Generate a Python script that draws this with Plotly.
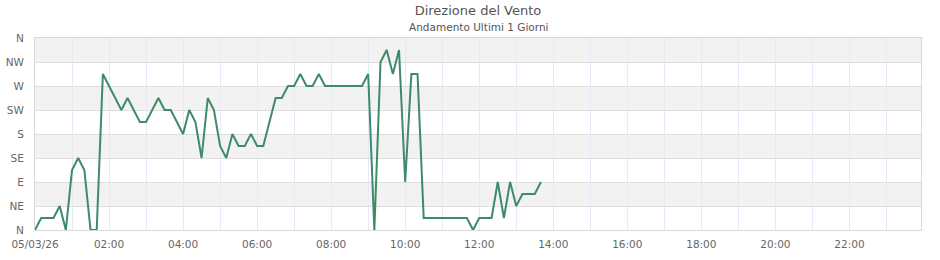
import plotly.graph_objects as go
import pandas as pd

# ---- data ----
start_time = "2026-03-05 00:00"
step_minutes = 10
direction_deg = [
    0, 22.5, 22.5, 22.5, 45, 0, 112.5, 135, 112.5, 0, 0, 292.5,
    270, 247.5, 225, 247.5, 225, 202.5, 202.5, 225, 247.5, 225, 225, 202.5,
    180, 225, 202.5, 135, 247.5, 225, 157.5, 135, 180, 157.5, 157.5, 180,
    157.5, 157.5, 202.5, 247.5, 247.5, 270, 270, 292.5, 270, 270, 292.5, 270,
    270, 270, 270, 270, 270, 270, 292.5, 0, 315, 337.5, 292.5, 337.5,
    90, 292.5, 292.5, 22.5, 22.5, 22.5, 22.5, 22.5, 22.5, 22.5, 22.5, 0,
    22.5, 22.5, 22.5, 90, 22.5, 90, 45, 67.5, 67.5, 67.5, 90,
]
times = pd.date_range(start_time, periods=len(direction_deg), freq=f"{step_minutes}min")

y_tickvals = [0, 45, 90, 135, 180, 225, 270, 315, 360]
y_ticktext = ["N", "NE", "E", "SE", "S", "SW", "W", "NW", "N"]

x_tickvals = pd.date_range("2026-03-05 00:00", periods=12, freq="2h")
x_ticktext = ["05/03/26", "02:00", "04:00", "06:00", "08:00", "10:00",
              "12:00", "14:00", "16:00", "18:00", "20:00", "22:00"]
x_range = ["2026-03-05 00:00", "2026-03-05 23:56"]

band_ranges = [(45, 90), (135, 180), (225, 270), (315, 360)]

title_text = "Direzione del Vento"
subtitle_text = "Andamento Ultimi 1 Giorni"

# ---- figure ----
FONT = "DejaVu Sans"
fig = go.Figure()
fig.add_trace(go.Scatter(
    x=times, y=direction_deg, mode="lines",
    line=dict(color="#3e8a6d", width=2),
    showlegend=False, hoverinfo="x+y",
))

for y0, y1 in band_ranges:
    fig.add_shape(type="rect", xref="paper", yref="y", x0=0, x1=1, y0=y0, y1=y1,
                  fillcolor="#f2f2f2", line_width=0, layer="below")

fig.update_layout(
    width=940, height=260,
    margin=dict(l=35, r=19, t=38, b=30, pad=0, autoexpand=False),
    paper_bgcolor="white", plot_bgcolor="white",
    font=dict(family=FONT, size=10.5, color="#666666"),
    title=dict(text=title_text, x=0.5, xanchor="center", xref="paper",
               y=1 - 10.5 / 260, yanchor="middle", yref="container",
               font=dict(family=FONT, size=13, color="#555555")),
    annotations=[dict(text=subtitle_text, xref="paper", yref="paper",
                      x=0.5, y=(230 - 26.5) / 192, xanchor="center", yanchor="middle",
                      showarrow=False, font=dict(family=FONT, size=10.5, color="#555555"))],
)

fig.update_xaxes(
    type="date", range=x_range, automargin=False,
    tickmode="array", tickvals=x_tickvals, ticktext=x_ticktext,
    showgrid=True, gridcolor="#e8e8f8", gridwidth=1,
    minor=dict(dtick=3600000, tick0="2026-03-05 00:00", showgrid=True,
               gridcolor="#e8e8f8", gridwidth=1),
    showline=True, mirror=True, linecolor="#d8d8d8", linewidth=1,
    ticks="", zeroline=False, ticklabelstandoff=4,
    tickfont=dict(family=FONT, size=10.5, color="#666666"),
)
fig.update_yaxes(
    range=[0, 360], automargin=False,
    tickmode="array", tickvals=y_tickvals, ticktext=y_ticktext,
    showgrid=True, gridcolor="#dedede", gridwidth=1,
    showline=True, mirror=True, linecolor="#d8d8d8", linewidth=1,
    ticks="", zeroline=False, ticklabelstandoff=8,
    tickfont=dict(family=FONT, size=10.5, color="#666666"),
)

fig.write_html("out.html")
